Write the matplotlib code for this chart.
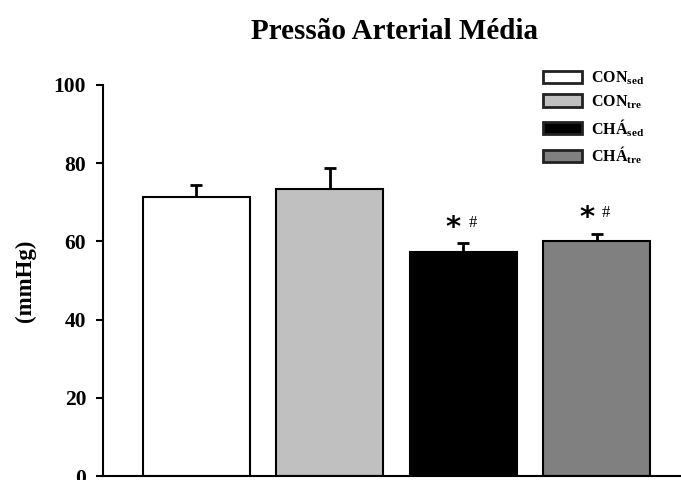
import matplotlib.pyplot as plt
from matplotlib.patches import Patch
import numpy as np

plt.rcParams['font.family'] = ['Liberation Serif', 'DejaVu Serif']
plt.rcParams['font.weight'] = 'bold'
plt.rcParams['mathtext.fontset'] = 'custom'
plt.rcParams['mathtext.rm'] = 'Liberation Serif:bold'
plt.rcParams['mathtext.bf'] = 'Liberation Serif:bold'

# dados
grupos = ['CON$_{\\mathrm{sed}}$', 'CON$_{\\mathrm{tre}}$', 'CHÁ$_{\\mathrm{sed}}$', 'CHÁ$_{\\mathrm{tre}}$']
medias = [71.3, 73.3, 57.3, 60.0]
erros = [3.1, 5.4, 2.2, 2.0]
cores = ['#ffffff', '#c0c0c0', '#000000', '#808080']
sig = ['', '', '*#', '*#']
yticks = [0, 20, 40, 60, 80, 100]

fig = plt.figure(figsize=(6.81, 4.8), dpi=100)
ax = fig.add_axes([0.151, 0.008, 0.849, 0.815])

x = np.arange(len(medias))
ax.bar(x, medias, width=0.8, color=cores, edgecolor='black', linewidth=1.5, zorder=2)
ax.errorbar(x, medias, yerr=[np.zeros(len(erros)), erros], fmt='none',
            ecolor='black', elinewidth=2, capsize=4, capthick=2, zorder=1)

for xi, m, e, s in zip(x, medias, erros, sig):
    if s:
        ax.text(xi - 0.075, m + e + 4.0, '*', ha='center', va='center',
                fontsize=21, fontfamily='DejaVu Sans', fontweight='bold')
        ax.text(xi + 0.07, m + e + 5.3, '#', ha='center', va='center',
                fontsize=12, fontweight='normal')

ax.set_xlim(-0.7, 3.63)
ax.set_ylim(0, 100)
ax.set_yticks(yticks)
ax.set_xticks([])
ax.tick_params(axis='y', labelsize=15.5, length=5, width=1.5, direction='out', pad=7)
for lab in ax.get_yticklabels():
    lab.set_fontweight('bold')
ax.spines['top'].set_visible(False)
ax.spines['right'].set_visible(False)
ax.spines['left'].set_linewidth(1.5)
ax.spines['bottom'].set_linewidth(1.5)
ax.set_ylabel('(mmHg)', fontsize=16.5, fontweight='bold', labelpad=13)

fig.text(0.58, 0.935, 'Pressão Arterial Média', ha='center', va='center',
         fontsize=21, fontweight='bold')

handles = [Patch(facecolor=c, edgecolor='#222222', linewidth=2) for c in cores]
ax.legend(handles, grupos, loc='upper left', bbox_to_anchor=(0.761, 1.04),
          borderaxespad=0, borderpad=0,
          frameon=False, fontsize=11.5, handlelength=2.45, handleheight=0.8,
          handletextpad=0.55, labelspacing=0.38)

fig.savefig('out.png', dpi=100)
